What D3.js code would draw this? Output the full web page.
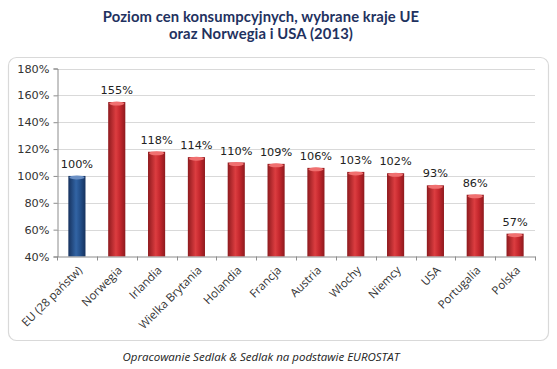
<!DOCTYPE html>
<html><head><meta charset="utf-8">
<script src="https://cdn.jsdelivr.net/npm/d3@7"></script>
<style>body{margin:0;background:#fff}svg{display:block}</style>
</head><body>
<script>
const categories = ["EU (28 państw)","Norwegia","Irlandia","Wielka Brytania","Holandia","Francja","Austria","Włochy","Niemcy","USA","Portugalia","Polska"];
const values = [100,155,118,114,110,109,106,103,102,93,86,57];
const yTicks = [40,60,80,100,120,140,160,180];
const titleLines = ["Poziom cen konsumpcyjnych, wybrane kraje UE","oraz Norwegia i USA (2013)"];
const caption = "Opracowanie Sedlak & Sedlak na podstawie EUROSTAT";

const W=557,H=369;
const svg=d3.select("body").append("svg").attr("width",W).attr("height",H);
const defs=svg.append("defs");
function grad(id,dark,mid,light){
  const g=defs.append("linearGradient").attr("id",id).attr("x1","0").attr("x2","1").attr("y1","0").attr("y2","0");
  g.append("stop").attr("offset","0%").attr("stop-color",dark);
  g.append("stop").attr("offset","45%").attr("stop-color",light);
  g.append("stop").attr("offset","70%").attr("stop-color",mid);
  g.append("stop").attr("offset","100%").attr("stop-color",dark);
}
grad("gRed","#8e1a1e","#c4272d","#dc3d40");
grad("gBlue","#16325e","#234f8a","#3264a4");

// frame
svg.append("rect").attr("x",8.5).attr("y",57.5).attr("width",540).attr("height",283).attr("rx",8)
  .attr("fill","#fff").attr("stroke","#d9d9d9").attr("stroke-width",1.2);

// title
svg.append("g").selectAll("text").data(titleLines).join("text")
  .attr("x",261).attr("y",(d,i)=>22+i*16.5).attr("text-anchor","middle")
  .attr("font-family","Lato, 'Open Sans', sans-serif").attr("font-weight","bold").attr("font-size",14.8)
  .attr("letter-spacing",0.1)
  .attr("fill","#1f3260").text(d=>d);

const x=d3.scaleBand().domain(categories).range([57,535]).paddingInner(0.57).paddingOuter(0.285);
const y=d3.scaleLinear().domain([40,180]).range([256.5,68.5]);

// grid
svg.append("g").selectAll("line").data(yTicks.slice(1)).join("line")
  .attr("x1",57).attr("x2",535).attr("y1",d=>Math.round(y(d))+0.5).attr("y2",d=>Math.round(y(d))+0.5)
  .attr("stroke","#d9d9d9").attr("stroke-width",1);

// y axis
const ya=svg.append("g").attr("transform","translate(57.5,0)")
  .call(d3.axisLeft(y).tickValues(yTicks).tickFormat(d=>d+"%").tickSize(4).tickPadding(4));
ya.select(".domain").attr("stroke","#8c8c8c");
ya.selectAll(".tick line").attr("stroke","#8c8c8c");
ya.selectAll("text").attr("font-family","'DejaVu Sans', sans-serif").attr("font-size",11.3).attr("fill","#333");

// bars
const bars=svg.append("g");
bars.selectAll("rect").data(values).join("rect")
  .attr("x",(d,i)=>x(categories[i])).attr("width",x.bandwidth())
  .attr("y",d=>y(d)).attr("height",d=>y(40)-y(d))
  .attr("fill",(d,i)=>i===0?"url(#gBlue)":"url(#gRed)");
bars.selectAll("ellipse").data(values).join("ellipse")
  .attr("cx",(d,i)=>x(categories[i])+x.bandwidth()/2).attr("cy",d=>y(d)+1.5)
  .attr("rx",x.bandwidth()/2-1).attr("ry",2)
  .attr("fill",(d,i)=>i===0?"#6a8fc4":"#f07070");

// x axis
const xa=svg.append("g").attr("transform","translate(0,256.5)")
  .call(d3.axisBottom(x).tickSize(0).tickFormat(""));
xa.select(".domain").attr("stroke","#8c8c8c");
const step=x.step();
svg.append("g").selectAll("line").data(d3.range(categories.length+1)).join("line")
  .attr("x1",i=>Math.round(57+i*step)+0.5).attr("x2",i=>Math.round(57+i*step)+0.5)
  .attr("y1",256.5).attr("y2",260.5).attr("stroke","#8c8c8c");

svg.append("g").selectAll("text").data(categories).join("text")
  .attr("transform",d=>`translate(${x(d)+x.bandwidth()/2+6},271) rotate(-45)`)
  .attr("text-anchor","end").attr("font-family","'Open Sans', sans-serif").attr("font-size",11.5)
  .attr("fill","#333").text(d=>d);

// data labels
svg.append("g").selectAll("text").data(values).join("text")
  .attr("x",(d,i)=>x(categories[i])+x.bandwidth()/2).attr("y",d=>y(d)-8)
  .attr("text-anchor","middle").attr("font-family","'DejaVu Sans', sans-serif").attr("font-size",11.3)
  .attr("fill","#222").text(d=>d+"%");

// caption
svg.append("text").attr("x",261).attr("y",361).attr("text-anchor","middle")
  .attr("font-family","'Open Sans', sans-serif").attr("font-style","italic").attr("font-size",11.5)
  .attr("fill","#222").text(caption);
</script>
</body></html>
